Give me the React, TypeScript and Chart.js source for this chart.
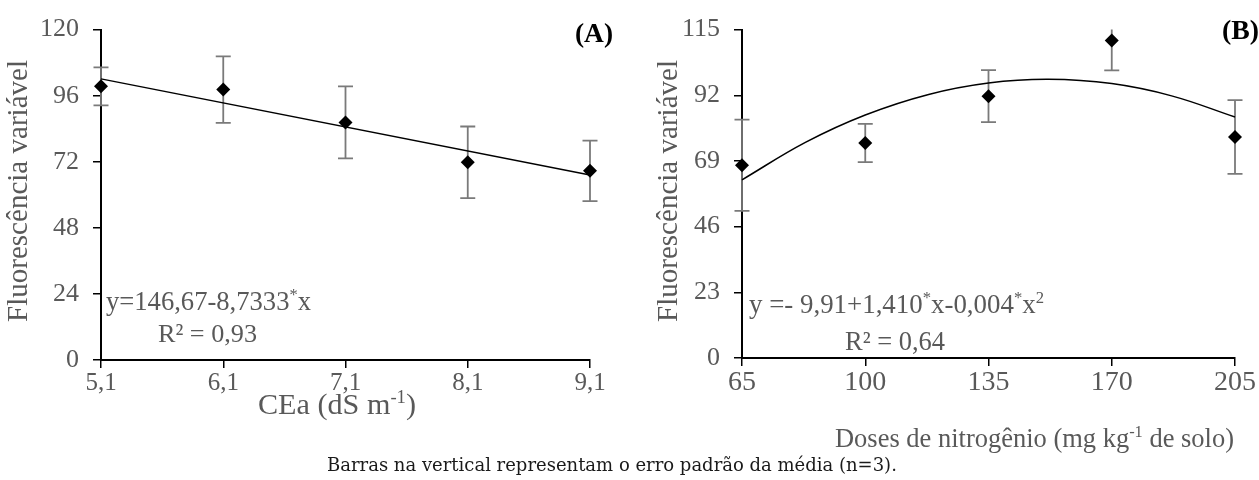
import React, { useEffect, useLayoutEffect, useRef } from 'react';
import { Chart, registerables } from 'chart.js';

Chart.register(...registerables);

// ---------- Panel A: salinity of irrigation water ----------
const ceaLevels = [5.1, 6.1, 7.1, 8.1, 9.1];
const fvMeansA = [99.4, 98.2, 86.3, 71.8, 68.7];
const fvErrA = [6.9, 12.1, 13.1, 13.0, 11.0];
const trendAx = [5.1, 9.1];
const trendAy = [102.1, 67.2];
const yTicksA = [0, 24, 48, 72, 96, 120];

// ---------- Panel B: nitrogen doses ----------
const nDoses = [65, 100, 135, 170, 205];
const fvMeansB = [67.5, 75.3, 91.7, 111.2, 77.4];
const fvErrB = [16.0, 6.7, 9.1, 10.5, 12.9];
const trendBx = [65, 83, 100, 118, 135, 152, 170, 187, 205];
const trendBy = [62.4, 75.5, 85.1, 92.3, 96.3, 97.6, 96.1, 91.8, 84.4];
const yTicksB = [0, 23, 46, 69, 92, 115];

const SERIF = '"Liberation Serif", "Times New Roman", serif';
const GRAY = '#595959';

type Part = { t: string; sup?: boolean };

// draws rich text (with superscripts) scaled uniformly so it spans x0..x1
function drawRich(
  ctx: CanvasRenderingContext2D,
  parts: Part[],
  x0: number,
  x1: number,
  baseline: number,
  size: number,
  color: string,
  bold = false
) {
  const f = (s: number) => `${bold ? 'bold ' : ''}${s}px ${SERIF}`;
  const supSize = size * 0.62;
  let w = 0;
  for (const p of parts) {
    ctx.font = f(p.sup ? supSize : size);
    w += ctx.measureText(p.t).width;
  }
  const s = (x1 - x0) / w;
  ctx.save();
  ctx.translate(x0, baseline);
  ctx.scale(s, s);
  ctx.fillStyle = color;
  ctx.textAlign = 'left';
  ctx.textBaseline = 'alphabetic';
  let cx = 0;
  for (const p of parts) {
    ctx.font = f(p.sup ? supSize : size);
    ctx.fillText(p.t, cx, p.sup ? -size * 0.38 : 0);
    cx += ctx.measureText(p.t).width;
  }
  ctx.restore();
}

type TextSpec = { parts: Part[]; x0: number; x1: number; base: number; size: number; color: string; bold?: boolean };

type Panel = {
  xs: number[];
  means: number[];
  errs: number[];
  tx: number[];
  ty: number[];
  tension: number;
  xMin: number;
  xMax: number;
  yTicks: number[];
  fmtX: (v: number) => string;
  xTickSize: number;
  width: number;
  height: number;
  area: { left: number; right: number; top: number; bottom: number };
  texts: TextSpec[];
  yTitle: { base: number; center: number; len: number; size: number };
};

function makeChart(canvas: HTMLCanvasElement, p: Panel) {
  const errorBars = {
    id: 'errorBars',
    beforeDatasetsDraw(chart: any) {
      const { ctx, chartArea, scales } = chart;
      const xs = scales.x;
      const ys = scales.y;
      ctx.save();
      ctx.strokeStyle = '#7a7a7a';
      ctx.lineWidth = 1.8;
      const cap = 7.5;
      p.xs.forEach((xv, i) => {
        const px = xs.getPixelForValue(xv);
        const hiRaw = ys.getPixelForValue(p.means[i] + p.errs[i]);
        const lo = ys.getPixelForValue(p.means[i] - p.errs[i]);
        const clipped = hiRaw < chartArea.top;
        const hi = clipped ? chartArea.top : hiRaw;
        ctx.beginPath();
        ctx.moveTo(px, hi);
        ctx.lineTo(px, lo);
        if (!clipped) {
          ctx.moveTo(px - cap, hi);
          ctx.lineTo(px + cap, hi);
        }
        ctx.moveTo(px - cap, lo);
        ctx.lineTo(px + cap, lo);
        ctx.stroke();
      });
      ctx.restore();
    },
  };

  const labels = {
    id: 'labels',
    afterDraw(chart: any) {
      const ctx = chart.ctx as CanvasRenderingContext2D;
      for (const t of p.texts) {
        drawRich(ctx, t.parts, t.x0, t.x1, t.base, t.size, t.color, t.bold);
      }
      ctx.save();
      ctx.translate(p.yTitle.base, p.yTitle.center);
      ctx.rotate(-Math.PI / 2);
      drawRich(
        ctx,
        [{ t: 'Fluorescência variável' }],
        -p.yTitle.len / 2,
        p.yTitle.len / 2,
        0,
        p.yTitle.size,
        GRAY
      );
      ctx.restore();
    },
  };

  const gridOpts = {
    display: true,
    drawOnChartArea: false,
    drawTicks: true,
    tickLength: 8,
    color: '#000',
    lineWidth: 1.5,
  };

  return new Chart(canvas, {
    type: 'line',
    data: {
      datasets: [
        {
          label: 'médias',
          data: p.xs.map((x, i) => ({ x, y: p.means[i] })),
          showLine: false,
          pointStyle: 'rectRot',
          pointRadius: 7,
          pointBackgroundColor: '#000',
          pointBorderColor: '#000',
          pointBorderWidth: 0,
          clip: false,
        } as any,
        {
          label: 'ajuste',
          data: p.tx.map((x, i) => ({ x, y: p.ty[i] })),
          showLine: true,
          borderColor: '#000',
          borderWidth: 1.5,
          pointRadius: 0,
          tension: p.tension,
          fill: false,
          clip: false,
        } as any,
      ],
    },
    options: {
      animation: false,
      responsive: false,
      maintainAspectRatio: false,
      layout: {
        padding: {
          left: 0,
          bottom: 0,
          top: p.area.top,
          right: p.width - p.area.right,
        },
      },
      plugins: {
        legend: { display: false },
        tooltip: { enabled: false },
        title: { display: false },
      },
      scales: {
        x: {
          type: 'linear',
          min: p.xMin,
          max: p.xMax,
          afterBuildTicks: (s: any) => {
            s.ticks = p.xs.map((v) => ({ value: v }));
          },
          afterFit: (s: any) => {
            s.height = p.height - p.area.bottom;
          },
          border: { display: true, color: '#000', width: 2 },
          grid: gridOpts,
          ticks: {
            color: GRAY,
            font: { family: SERIF, size: p.xTickSize },
            padding: 0,
            autoSkip: false,
            maxRotation: 0,
            callback: (v: any) => p.fmtX(Number(v)),
          },
        },
        y: {
          type: 'linear',
          min: p.yTicks[0],
          max: p.yTicks[p.yTicks.length - 1],
          afterBuildTicks: (s: any) => {
            s.ticks = p.yTicks.map((v) => ({ value: v }));
          },
          afterFit: (s: any) => {
            s.width = p.area.left;
          },
          border: { display: true, color: '#000', width: 2 },
          grid: gridOpts,
          ticks: {
            color: GRAY,
            font: { family: SERIF, size: 26 },
            padding: 14,
            autoSkip: false,
            callback: (v: any) => String(v),
          },
        },
      },
    },
    plugins: [errorBars, labels],
  } as any);
}

const panelA: Panel = {
  xs: ceaLevels,
  means: fvMeansA,
  errs: fvErrA,
  tx: trendAx,
  ty: trendAy,
  tension: 0,
  xMin: 5.1,
  xMax: 9.1,
  yTicks: yTicksA,
  fmtX: (v) => v.toFixed(1).replace('.', ','),
  xTickSize: 25,
  width: 630,
  height: 480,
  area: { left: 101, right: 590, top: 24, bottom: 360 },
  texts: [
    { parts: [{ t: 'y=146,67-8,7333' }, { t: '*', sup: true }, { t: 'x' }], x0: 106, x1: 311, base: 310, size: 22, color: GRAY },
    { parts: [{ t: 'R² = 0,93' }], x0: 158, x1: 257, base: 342, size: 22, color: GRAY },
    { parts: [{ t: '(A)' }], x0: 575, x1: 613, base: 42, size: 23, color: '#000', bold: true },
    { parts: [{ t: 'CEa (dS m' }, { t: '-1', sup: true }, { t: ')' }], x0: 258, x1: 416, base: 414, size: 24, color: GRAY },
  ],
  yTitle: { base: 27, center: 191, len: 262, size: 28 },
};

const panelB: Panel = {
  xs: nDoses,
  means: fvMeansB,
  errs: fvErrB,
  tx: trendBx,
  ty: trendBy,
  tension: 0.4,
  xMin: 65,
  xMax: 205,
  yTicks: yTicksB,
  fmtX: (v) => String(v),
  xTickSize: 28,
  width: 629,
  height: 480,
  area: { left: 112, right: 605, top: 23, bottom: 358 },
  texts: [
    {
      parts: [
        { t: 'y =- 9,91+1,410' },
        { t: '*', sup: true },
        { t: 'x-0,004' },
        { t: '*', sup: true },
        { t: 'x' },
        { t: '2', sup: true },
      ],
      x0: 119,
      x1: 414,
      base: 313,
      size: 22,
      color: GRAY,
    },
    { parts: [{ t: 'R² = 0,64' }], x0: 215, x1: 315, base: 350, size: 22, color: GRAY },
    { parts: [{ t: '(B)' }], x0: 592, x1: 629, base: 39, size: 23, color: '#000', bold: true },
    {
      parts: [{ t: 'Doses de nitrogênio (mg kg' }, { t: '-1', sup: true }, { t: ' de solo)' }],
      x0: 205,
      x1: 604,
      base: 447,
      size: 22,
      color: GRAY,
    },
  ],
  yTitle: { base: 47, center: 191, len: 262, size: 28 },
};

const captionText = 'Barras na vertical representam o erro padrão da média (n=3).';

export default function App() {
  const refA = useRef<HTMLCanvasElement>(null);
  const refB = useRef<HTMLCanvasElement>(null);
  const capRef = useRef<HTMLDivElement>(null);

  useEffect(() => {
    const a = makeChart(refA.current!, panelA);
    const b = makeChart(refB.current!, panelB);
    return () => {
      a.destroy();
      b.destroy();
    };
  }, []);

  useLayoutEffect(() => {
    const el = capRef.current;
    if (!el) return;
    el.style.fontSize = '16px';
    const w = el.getBoundingClientRect().width;
    if (w > 0) el.style.fontSize = `${(16 * 570) / w}px`;
  }, []);

  return (
    <div style={{ position: 'absolute', left: 0, top: 0, width: 1259, height: 480, background: '#fff', overflow: 'hidden' }}>
      <canvas ref={refA} width={630} height={480} style={{ position: 'absolute', left: 0, top: 0, width: 630, height: 480 }} />
      <canvas ref={refB} width={629} height={480} style={{ position: 'absolute', left: 630, top: 0, width: 629, height: 480 }} />
      <div
        ref={capRef}
        style={{
          position: 'absolute',
          left: 327,
          top: 456,
          fontFamily: '"DejaVu Serif", serif',
          fontSize: 16,
          lineHeight: '17px',
          color: '#1a1a1a',
          whiteSpace: 'nowrap',
        }}
      >
        {captionText}
      </div>
    </div>
  );
}
